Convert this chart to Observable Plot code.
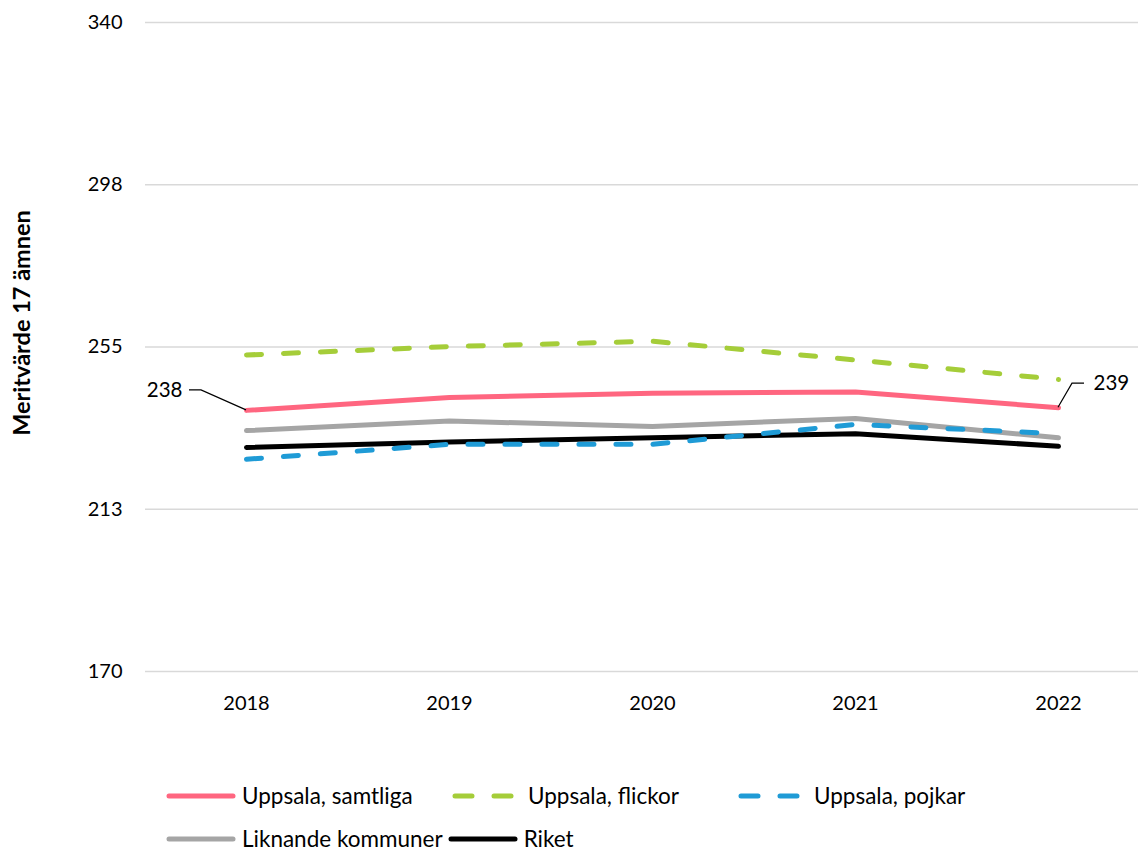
<!DOCTYPE html>
<html>
<head>
<meta charset="utf-8">
<script src="https://cdn.jsdelivr.net/npm/d3@7"></script>
<script src="https://cdn.jsdelivr.net/npm/@observablehq/plot@0.6"></script>
<style>
  body { margin: 0; background: #fff; font-family: Lato, "Open Sans", sans-serif; }
  #legend { font-size: 22.5px; color: #000; padding-top: 44px; }
  .row { display: flex; align-items: center; height: 43px; padding-left: 165px; }
  .item { display: flex; align-items: center; }
  .item svg { margin-right: 5px; }
</style>
</head>
<body>
<div id="chart"></div>
<script>
const years = ["2018", "2019", "2020", "2021", "2022"];
const samtliga = [238.4, 241.8, 242.9, 243.2, 239.1];
const flickor  = [252.9, 255.1, 256.5, 251.6, 246.5];
const pojkar   = [225.6, 229.5, 229.5, 234.7, 232.3];
const liknande = [233.1, 235.6, 234.2, 236.3, 231.2];
const riket    = [228.7, 230.1, 231.2, 232.3, 229.0];
const yTicks = [170, 212.5, 255, 297.5, 340];
const yTickLabels = ["170", "213", "255", "298", "340"];
const yLabel = "Meritvärde 17 ämnen";
const seriesNames = ["Uppsala, samtliga", "Uppsala, flickor", "Uppsala, pojkar", "Liknande kommuner", "Riket"];
const seriesValues = [samtliga, flickor, pojkar, liknande, riket];
const colors = ["#FF6680", "#A5CD39", "#1F9BD6", "#A5A5A5", "#000000"];
const dashes = [null, "15,22", "15,22", null, null];
const drawOrder = [3, 4, 0, 1, 2];

const table = seriesNames.map((name, i) => years.map((year, j) => ({series: name, year, value: seriesValues[i][j]})));

// data labels on first and last point of "Uppsala, samtliga"
const labelData = [
  {year: years[0], value: samtliga[0], text: String(Math.round(samtliga[0])), side: "left"},
  {year: years[4], value: samtliga[4], text: String(Math.round(samtliga[4])), side: "right"}
];

const leaderMark = (index, scales) => {
  const g = d3.create("svg:g");
  for (const d of labelData) {
    const px = scales.x(d.year), py = scales.y(d.value);
    let pts;
    if (d.side === "left") pts = [[px - 57, py - 20], [px - 45, py - 20], [px, py]];
    else pts = [[px + 26, py - 24], [px + 14, py - 24], [px, py]];
    g.append("polyline")
      .attr("points", pts.map(p => p.join(",")).join(" "))
      .attr("fill", "none").attr("stroke", "#000").attr("stroke-width", 1.2);
  }
  return g.node();
};

const fontFamily = "Lato, 'Open Sans', sans-serif";

const lineMarks = drawOrder.map(i => Plot.line(table[i], {
  x: "year", y: "value",
  stroke: colors[i], strokeWidth: 5,
  strokeDasharray: dashes[i] || undefined,
  strokeLinecap: "round", strokeLinejoin: "round"
}));

const chart = Plot.plot({
  width: 1138,
  height: 730,
  marginTop: 22,
  marginBottom: 59,
  marginLeft: 145,
  marginRight: 0,
  style: {fontFamily, fontSize: "20px", color: "#000", background: "#fff"},
  x: {type: "point", domain: years, range: [246, 1058], padding: 0, label: null},
  y: {domain: [170, 340], label: null},
  marks: [
    Plot.ruleY(yTicks, {stroke: "#D9D9D9", strokeWidth: 1.3}),
    Plot.axisY(yTicks, {tickSize: 0, tickPadding: 23, tickFormat: (d, i) => yTickLabels[i], label: null, fontSize: 20}),
    Plot.axisX(years, {tickSize: 0, tickPadding: 24, label: null, fontSize: 20}),
    Plot.text([yLabel], {frameAnchor: "left", dx: -123, dy: -24, rotate: -90, textAnchor: "middle", text: d => d, fontWeight: "bold", fontSize: 23.5}),
    ...lineMarks,
    leaderMark,
    Plot.text(labelData.filter(d => d.side === "left"), {x: "year", y: "value", text: "text", dx: -64, dy: -20, textAnchor: "end", fontSize: 20.5}),
    Plot.text(labelData.filter(d => d.side === "right"), {x: "year", y: "value", text: "text", dx: 35, dy: -24, textAnchor: "start", fontSize: 20.5})
  ]
});
document.getElementById("chart").append(chart);

// legend
function swatch(color, dash) {
  const ns = "http://www.w3.org/2000/svg";
  const svg = document.createElementNS(ns, "svg");
  svg.setAttribute("width", 72); svg.setAttribute("height", 12);
  const line = document.createElementNS(ns, "line");
  line.setAttribute("x1", 4); line.setAttribute("x2", 68);
  line.setAttribute("y1", 6); line.setAttribute("y2", 6);
  line.setAttribute("stroke", color); line.setAttribute("stroke-width", 5);
  line.setAttribute("stroke-linecap", "round");
  if (dash) line.setAttribute("stroke-dasharray", "17,22");
  svg.append(line);
  return svg;
}
const legend = document.createElement("div");
legend.id = "legend";
const rows = [[0, 1, 2], [3, 4]];
rows.forEach((r, ri) => {
  const row = document.createElement("div");
  row.className = "row";
  r.forEach((i, k) => {
    const item = document.createElement("div");
    item.className = "item";
    if (ri === 0) item.style.width = "286px";
    else if (k > 0) item.style.marginLeft = "4px";
    item.append(swatch(colors[i], dashes[i]));
    const span = document.createElement("span");
    span.textContent = seriesNames[i];
    item.append(span);
    row.append(item);
  });
  legend.append(row);
});
document.body.append(legend);
</script>
</body>
</html>
